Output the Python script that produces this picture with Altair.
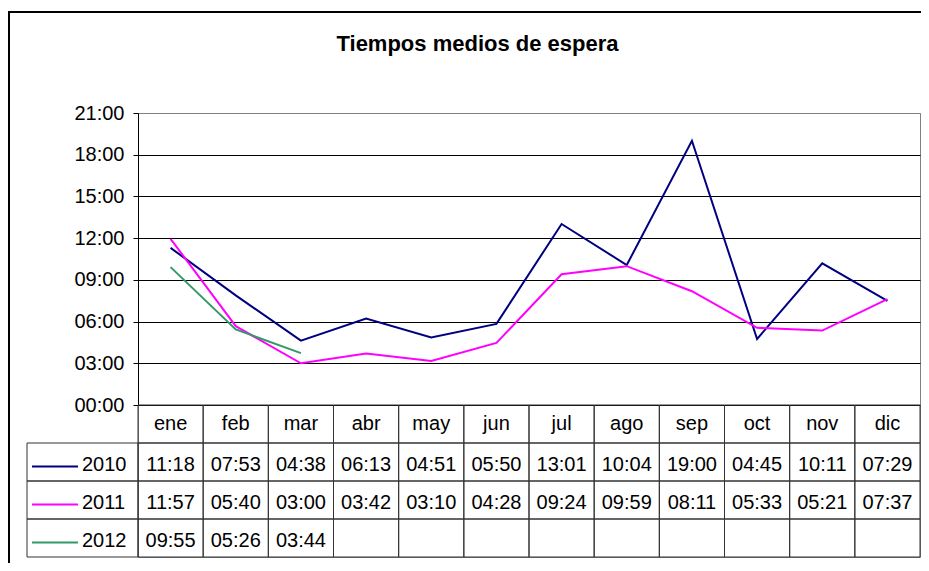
import altair as alt
import pandas as pd

# ---- data ----
months = ["ene", "feb", "mar", "abr", "may", "jun", "jul", "ago", "sep", "oct", "nov", "dic"]
years = ["2010", "2011", "2012"]
t2010 = ["11:18", "07:53", "04:38", "06:13", "04:51", "05:50", "13:01", "10:04", "19:00", "04:45", "10:11", "07:29"]
t2011 = ["11:57", "05:40", "03:00", "03:42", "03:10", "04:28", "09:24", "09:59", "08:11", "05:33", "05:21", "07:37"]
t2012 = ["09:55", "05:26", "03:44"]
series_colors = ["#000080", "#FF00FF", "#339966"]
y_ticks = [0, 3, 6, 9, 12, 15, 18, 21]
chart_title = "Tiempos medios de espera"

FONT = "Liberation Sans"
PLOT_W = 782
LINE_H = 292
TABLE_H = 152


def to_num(s):
    a, b = s.split(":")
    return int(a) + int(b) / 60.0


series = {"2010": t2010, "2011": t2011, "2012": t2012}

line_rows = []
for yr in years:
    for i, s in enumerate(series[yr]):
        line_rows.append({"month": months[i], "idx": i, "year": yr, "value": to_num(s)})
line_df = pd.DataFrame(line_rows)

row_names = ["header"] + years
cell_rows = []
for i, m in enumerate(months):
    cell_rows.append({"row": "header", "month": m, "label": m})
    for yr in years:
        vals = series[yr]
        cell_rows.append({"row": yr, "month": m, "label": vals[i] if i < len(vals) else ""})
cell_df = pd.DataFrame(cell_rows)
legend_df = pd.DataFrame({"row": years, "year": years})
one = pd.DataFrame({"k": [0]})

x_scale = alt.Scale(domain=months, paddingInner=0, paddingOuter=0)
x_enc = alt.X("month:N", sort=months, scale=x_scale, axis=None)
color_enc = alt.Color("year:N", scale=alt.Scale(domain=years, range=series_colors), legend=None)
row_scale = alt.Scale(domain=row_names, range=[LINE_H, LINE_H + TABLE_H], paddingInner=0, paddingOuter=0)

# ---- line chart ----
lines = alt.Chart(line_df).mark_line(strokeWidth=2).encode(
    x=alt.X("month:N", sort=months, scale=x_scale, axis=None, bandPosition=0.5),
    y=alt.Y(
        "value:Q",
        scale=alt.Scale(domain=[0, 21], range=[LINE_H, 0], nice=False, zero=True),
        axis=alt.Axis(
            values=y_ticks,
            labelExpr="(datum.value < 10 ? '0' : '') + datum.value + ':00'",
            title=None,
            grid=True,
            gridColor={"condition": {"test": "datum.value == 21", "value": "#808080"}, "value": "#000000"},
            gridWidth=1,
            domainColor="#000000",
            domainWidth=1,
            tickColor="#000000",
            tickSize=5,
            labelFont=FONT,
            labelFontSize=20,
            labelColor="#000000",
            labelPadding=9,
        ),
    ),
    color=color_enc,
    order=alt.Order("idx:Q"),
)

# ---- data table ----
cells = alt.Chart(cell_df).mark_rect(fill="white", fillOpacity=0, stroke="#333333", strokeWidth=1).encode(
    x=x_enc,
    y=alt.Y("row:N", scale=row_scale, axis=None),
)
head_text = alt.Chart(cell_df).transform_filter("datum.row == 'header'").mark_text(
    font=FONT, fontSize=20, color="#000000", baseline="middle"
).encode(x=x_enc, y=alt.Y("row:N", scale=row_scale, axis=None), text="label:N")
data_text = alt.Chart(cell_df).transform_filter("datum.row != 'header'").mark_text(
    font=FONT, fontSize=20, color="#000000", baseline="middle", dy=3
).encode(x=x_enc, y=alt.Y("row:N", scale=row_scale, axis=None), text="label:N")

leg_cells = alt.Chart(legend_df).mark_rect(fill="white", fillOpacity=0, stroke="#333333", strokeWidth=1).encode(
    x=alt.value(-111), x2=alt.value(0), y=alt.Y("row:N", scale=row_scale, axis=None)
)
leg_lines = alt.Chart(legend_df).mark_rule(strokeWidth=2).encode(
    x=alt.value(-106), x2=alt.value(-60),
    y=alt.Y("row:N", scale=row_scale, axis=None, bandPosition=0.62),
    color=color_enc,
)
leg_text = alt.Chart(legend_df).mark_text(
    font=FONT, fontSize=20, color="#000000", align="left", baseline="middle", dy=3
).encode(x=alt.value(-56), y=alt.Y("row:N", scale=row_scale, axis=None), text="year:N")

table = alt.layer(cells, head_text, data_text, leg_cells, leg_lines, leg_text)

# ---- frame and title ----
frame = alt.Chart(one).mark_rect(fill="white", fillOpacity=0, stroke="#000000", strokeWidth=2).encode(
    x=alt.value(-129), x2=alt.value(PLOT_W + 60), y=alt.value(-101), y2=alt.value(LINE_H + TABLE_H + 60)
)
title = alt.Chart(one).mark_text(
    font=FONT, fontSize=22, fontWeight="bold", color="#000000", align="center", baseline="middle"
).encode(x=alt.value(339.5), y=alt.value(-69), text=alt.value(chart_title))

chart = alt.layer(frame, title, lines, table).resolve_scale(y="independent").properties(
    width=PLOT_W,
    height=LINE_H + TABLE_H,
    autosize=alt.AutoSizeParams(type="none"),
    padding={"left": 130, "top": 105, "right": 1, "bottom": 6},
    background="white",
).configure_view(stroke="#808080", strokeWidth=1)

chart.save("out.html", embed_options={"renderer": "svg", "actions": False})
